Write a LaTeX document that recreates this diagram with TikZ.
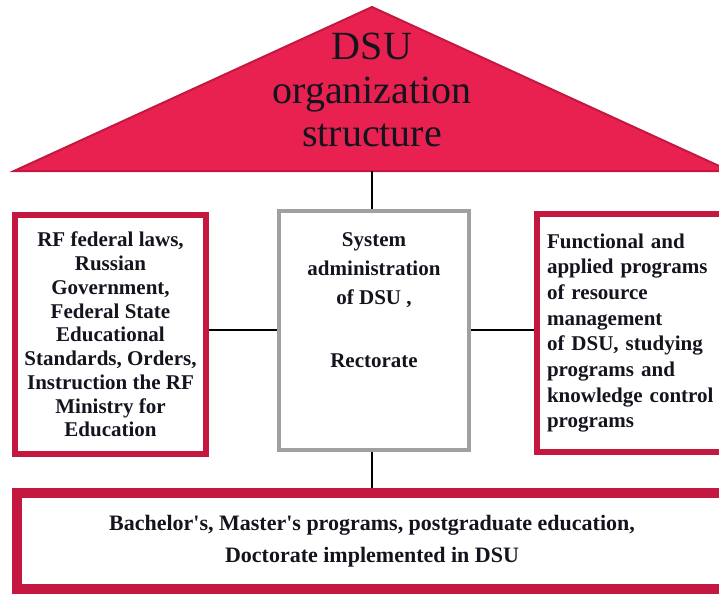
\documentclass[tikz,border=0pt]{standalone}
\usepackage{fontspec}
\setmainfont{Liberation Serif}
\usepackage{tikz}
\usetikzlibrary{calc}
\usetikzlibrary{positioning}
\definecolor{crimson}{RGB}{232, 33, 80}
\definecolor{darkcrimson}{RGB}{196, 24, 64}
\definecolor{framegrey}{RGB}{160, 160, 160}
\definecolor{ink}{RGB}{20, 20, 30}

\tikzset{
  redbox/.style   = {draw=darkcrimson, line width=6pt, fill=white, inner sep=0pt},
  greybox/.style  = {draw=framegrey,   line width=4pt, fill=white, inner sep=0pt},
  boxtext/.style  = {font=\fontsize{21}{23.75}\selectfont\bfseries, text=ink},
  link/.style     = {draw=black, line width=1.2pt},
}

\begin{document}
\begin{tikzpicture}[x=1pt, y=-1pt]
            % Frame to fix the page size:
            \clip                                                       (  0,   0) rectangle (719, 594);
            \fill[white]                                                (  0,   0) rectangle (719, 594);

            % Roof with the title:
            \coordinate (apex)     at (372,   7);
            \coordinate (eaveL)    at ( 14, 171);
            \coordinate (eaveR)    at (730, 171);
            \coordinate (roofbase) at (372, 171);
            \filldraw[fill=crimson, draw=darkcrimson, line width=2pt]   (eaveL) -- (apex) -- (eaveR) -- cycle;
            \node[font=\fontsize{40}{43.5}\selectfont, text=ink, align=center] (title) at (372, 90)
                 {DSU\\organization\\structure};

            % The three boxes:
            \node[redbox,  minimum width=191, minimum height=239,
                  boxtext, align=center]                         (laws) at (110.5, 334.5)
                 {RF federal laws,\\Russian\\Government,\\Federal State\\Educational\\Standards, Orders,\\Instruction the RF\\Ministry for\\Education};
            \node[greybox, minimum width=190, minimum height=239]       (adm)  at (374, 330.5) {};
            \node[boxtext, font=\fontsize{21}{29}\selectfont\bfseries,
                  align=center, anchor=north]                    (admtext) at ([yshift=-20pt]adm.north)
                 {System\\administration\\of DSU ,\\[34pt]Rectorate};
            \node[redbox,  minimum width=190, minimum height=238,
                  boxtext, font=\fontsize{21}{25.7}\selectfont\bfseries,
                  text width=170, align=left]                    (progs) at (632, 333)
                 {Functional and\\applied programs\\of resource\\management\\of DSU, studying\\programs and\\knowledge control\\programs};

            % Education box at the bottom:
            \node[redbox,  line width=10pt, minimum width=710, minimum height=96,
                  boxtext, font=\fontsize{22}{32}\selectfont\bfseries,
                  align=center]                                  (edu)  at (372, 541)
                 {Bachelor\textquotesingle s, Master\textquotesingle s programs, postgraduate education,\\Doctorate implemented in DSU};

            % Connectors:
            \draw[link] (roofbase)                -- (roofbase |- adm.north);
            \draw[link] (laws.east |- 0, 330)     -- (adm.west |- 0, 330);
            \draw[link] (adm.east |- 0, 330)      -- (progs.west |- 0, 330);
            \draw[link] (adm.south -| roofbase)   -- (edu.north -| roofbase);
        \end{tikzpicture}
\end{document}
